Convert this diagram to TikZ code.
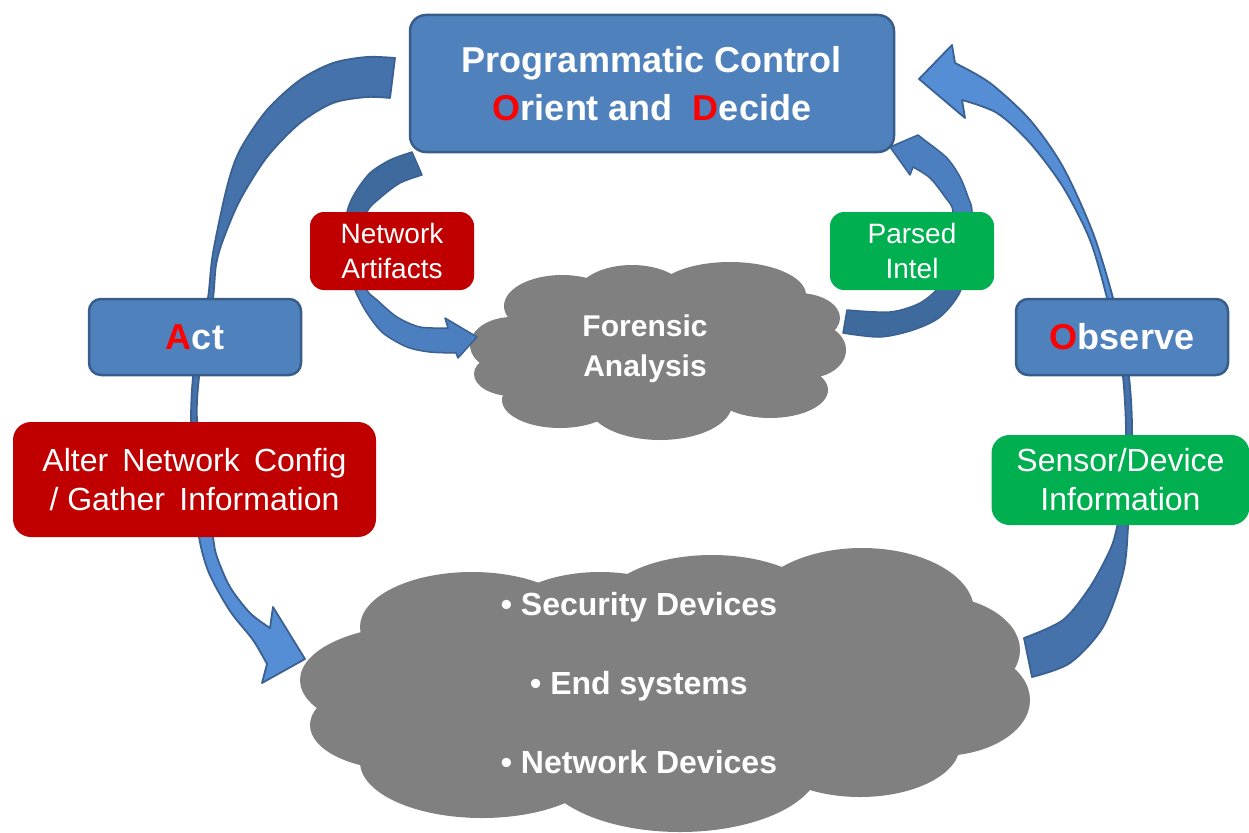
\documentclass[tikz,border=0pt]{standalone}
\usepackage{fontspec}
\setmainfont{Liberation Sans}
\definecolor{boxblue}{HTML}{4F81BD}
\definecolor{boxedge}{HTML}{385D8A}
\definecolor{arrdark}{HTML}{4572AA}
\definecolor{arrlight}{HTML}{558ED5}
\definecolor{arredge}{HTML}{3A6192}
\definecolor{smdark}{HTML}{3F6A9D}
\definecolor{smlight}{HTML}{4C7FBF}
\definecolor{redbox}{HTML}{C00000}
\definecolor{greenbox}{HTML}{00B050}
\definecolor{cloudgrey}{HTML}{808080}
\definecolor{accent}{HTML}{FF0000}
\tikzset{
  bluebox/.style={draw=boxedge, fill=boxblue, line width=2.5pt, rounded corners=16pt,
    text=white, inner sep=0pt, align=center, font=\fontsize{36}{48}\selectfont\bfseries},
  redlabel/.style={fill=redbox, rounded corners=18pt, text=white, inner sep=0pt, align=center},
  greenlabel/.style={fill=greenbox, rounded corners=18pt, text=white, inner sep=0pt, align=center},
  cloudpuff/.style={fill=cloudgrey},
  cloudtext/.style={text=white, align=center, inner sep=0pt},
  bigarrow/.style={draw=arredge, line width=1.8pt, line join=round},
  smallarrow/.style={draw=arredge, line width=1.5pt, line join=round}
}
\begin{document}
\begin{tikzpicture}[x=1pt,y=-1pt]
\useasboundingbox (0,0) rectangle (1249,832);

% forensic cloud
\foreach \cx/\cy/\rx/\ry in {655/350/150/62, 512/345/42/28, 562/306/58/31, 632/296/56/31,
  730/295/76/33, 798/318/42/25, 808/350/38/28, 770/390/58/28, 660/404/72/36,
  560/400/58/28, 512/374/38/22}
  \fill[cloudpuff] (\cx,\cy) ellipse [x radius=\rx pt, y radius=\ry pt];
% devices cloud
\foreach \cx/\cy/\rx/\ry in {665/690/310/105, 420/680/120/55, 472/627/112/55, 600/622/100/50,
  712/610/112/55, 862/611/112/63, 930/650/90/55, 940/700/90/56, 860/745/100/52,
  680/765/140/67, 482/762/122/56, 402/725/92/45}
  \fill[cloudpuff] (\cx,\cy) ellipse [x radius=\rx pt, y radius=\ry pt];
\node[cloudtext, font=\fontsize{30}{40}\selectfont\bfseries] (fortext) at (645,349) {Forensic\\Analysis};
\node[cloudtext, font=\fontsize{32}{79}\selectfont\bfseries] (devtext) at (639,683)
  {• Security Devices\\• End systems\\• Network Devices};

% left big arrow (Act)
\filldraw[bigarrow, fill=arrdark] plot[smooth] coordinates {(395,58) (367,57) (333,63) (300,80) (267,110) (240,150) (227,187) (213,253) (208,298) (199,340) (193,377) (191,420) (193,480)}
  -- plot[smooth] coordinates {(206,480) (197,420) (199,377) (205,340) (213,298) (216,265) (223,240) (240,200) (267,157) (300,123) (333,103) (367,97) (390,98)} -- cycle;
\filldraw[bigarrow, fill=arrlight] plot[smooth] coordinates {(193,480) (199,537) (209,573) (230,611) (253,640) (267,664)}
  -- (262,683) -- (305,659) -- (273,607)
  -- plot[smooth] coordinates {(270,628) (250,613) (230,587) (217,557) (213,537) (206,480)} -- cycle;

% right big arrow (Observe)
\filldraw[bigarrow, fill=arrdark] plot[smooth] coordinates {(1024,638) (1063,620) (1090,587) (1110,550) (1117,527) (1123,490) (1126,433) (1123,377) (1115,337)}
  -- plot[smooth] coordinates {(1121,337) (1129,377) (1132,433) (1128,527) (1123,573) (1103,627) (1070,663) (1032,677)} -- cycle;
\filldraw[bigarrow, fill=arrlight] plot[smooth] coordinates {(1121,337) (1113,298) (1093,233) (1063,167) (1030,120) (990,83) (955,63)}
  -- (952,45) -- (919,79) -- (965,118)
  -- plot[smooth] coordinates {(962,100) (997,113) (1030,143) (1063,187) (1090,240) (1107,298) (1115,337)} -- cycle;

% network artifacts arrow
\filldraw[smallarrow, fill=smdark] plot[smooth] coordinates {(412,152) (390,160) (370,173) (355,193) (347,212) (345,240)}
  -- plot[smooth] coordinates {(364,240) (367,212) (380,198) (400,183) (422,175)} -- cycle;
\filldraw[smallarrow, fill=smlight] plot[smooth] coordinates {(345,240) (348,265) (355,290) (367,313) (383,333) (407,347) (430,352) (456,353)}
  -- (458,358) -- (477,337) -- (445,318)
  -- plot[smooth] coordinates {(448,328) (420,327) (397,317) (377,300) (367,290) (363,265) (364,240)} -- cycle;

% parsed intel arrow
\filldraw[smallarrow, fill=smdark] plot[smooth] coordinates {(843,333) (880,337) (913,330) (940,317) (960,292) (969,255)}
  -- plot[smooth] coordinates {(949,255) (940,285) (920,303) (890,312) (847,310)} -- cycle;
\filldraw[smallarrow, fill=smlight] plot[smooth] coordinates {(969,255) (972,212) (968,197) (960,177) (947,158) (927,142)}
  -- (918,135) -- (890,147) -- (910,175)
  -- plot[smooth] coordinates {(913,167) (930,178) (945,197) (953,212) (949,255)} -- cycle;

% boxes
\node[bluebox, minimum width=484pt, minimum height=137pt] (ctrl) at (652,83.5)
  {Programmatic Control\\{\color{accent}O}rient and\ \ {\color{accent}D}ecide};
\node[bluebox, rounded corners=12pt, minimum width=212pt, minimum height=76pt] (act) at (195,337)
  {{\color{accent}A}ct};
\node[bluebox, rounded corners=12pt, minimum width=212pt, minimum height=76pt] (obs) at (1122,337)
  {{\color{accent}O}bserve};
\node[redlabel, minimum width=363pt, minimum height=115pt, font=\fontsize{32}{39}\selectfont] (alter) at (194.5,479.5)
  {Alter\, Network\, Config\\/ Gather\, Information};
\node[greenlabel, minimum width=258pt, minimum height=90pt, font=\fontsize{32}{39}\selectfont] (sensor) at (1120.5,480)
  {Sensor/Device\\Information};
\node[redlabel, rounded corners=14pt, minimum width=164pt, minimum height=78pt, font=\fontsize{28}{35}\selectfont] (netart) at (392,251)
  {Network\\Artifacts};
\node[greenlabel, rounded corners=14pt, minimum width=164pt, minimum height=78pt, font=\fontsize{28}{35}\selectfont] (parsed) at (912,251)
  {Parsed\\Intel};
\end{tikzpicture}
\end{document}
